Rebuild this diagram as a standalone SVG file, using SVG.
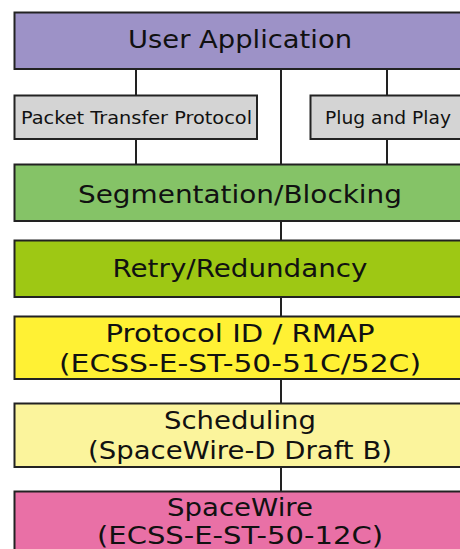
<svg xmlns="http://www.w3.org/2000/svg" width="460" height="549" viewBox="0 0 460 549">
<style>
.box{stroke:#222;stroke-width:2}
.t{font-family:"DejaVu Sans","Liberation Sans",sans-serif;font-size:25px;fill:#111;text-anchor:middle}
.s{font-family:"DejaVu Sans","Liberation Sans",sans-serif;font-size:18px;fill:#111;text-anchor:middle}
.c{stroke:#222;stroke-width:2;fill:none}
</style>
<rect width="460" height="549" fill="#fff"/>
<g id="connectors">
<path class="c" d="M136,69V95M136,139V164M387,69V95M387,139V164M281,69V164M281,221V240M281,297V316M281,379V403M281,467V491"/>
</g>
<g id="user-application">
<rect class="box" x="14.5" y="12.5" width="460" height="56.5" fill="#9d92c7"/>
<text class="t" x="240" y="48" textLength="224" lengthAdjust="spacingAndGlyphs">User Application</text>
</g>
<g id="packet-transfer-protocol">
<rect class="box" x="14.5" y="95.5" width="242.5" height="43.5" fill="#d4d4d4"/>
<text class="s" x="136.5" y="123.5" textLength="231" lengthAdjust="spacingAndGlyphs">Packet Transfer Protocol</text>
</g>
<g id="plug-and-play">
<rect class="box" x="310.5" y="95.5" width="170" height="43.5" fill="#d4d4d4"/>
<text class="s" x="388" y="123.5" textLength="126" lengthAdjust="spacingAndGlyphs">Plug and Play</text>
</g>
<g id="segmentation-blocking">
<rect class="box" x="14.5" y="164.5" width="460" height="56.5" fill="#85c367"/>
<text class="t" x="240" y="202.5" textLength="324" lengthAdjust="spacingAndGlyphs">Segmentation/Blocking</text>
</g>
<g id="retry-redundancy">
<rect class="box" x="14.5" y="240.5" width="460" height="56.5" fill="#9ec814"/>
<text class="t" x="240" y="277" textLength="255" lengthAdjust="spacingAndGlyphs">Retry/Redundancy</text>
</g>
<g id="protocol-id-rmap">
<rect class="box" x="14.5" y="316.5" width="460" height="62.5" fill="#fff134"/>
<text class="t" x="240" y="342" textLength="269" lengthAdjust="spacingAndGlyphs">Protocol ID / RMAP</text>
<text class="t" x="240" y="372" textLength="362" lengthAdjust="spacingAndGlyphs">(ECSS-E-ST-50-51C/52C)</text>
</g>
<g id="scheduling">
<rect class="box" x="14.5" y="403.5" width="460" height="63.5" fill="#fbf49c"/>
<text class="t" x="240" y="429" textLength="152" lengthAdjust="spacingAndGlyphs">Scheduling</text>
<text class="t" x="240" y="459" textLength="304" lengthAdjust="spacingAndGlyphs">(SpaceWire-D Draft B)</text>
</g>
<g id="spacewire">
<rect class="box" x="14.5" y="491.5" width="460" height="80" fill="#e970a6"/>
<text class="t" x="240" y="516" textLength="146" lengthAdjust="spacingAndGlyphs">SpaceWire</text>
<text class="t" x="240" y="544" textLength="286" lengthAdjust="spacingAndGlyphs">(ECSS-E-ST-50-12C)</text>
</g>
</svg>
